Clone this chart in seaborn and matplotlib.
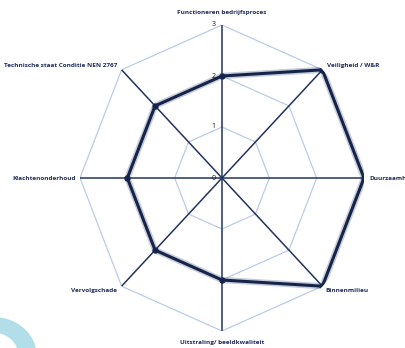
import numpy as np
import matplotlib
matplotlib.use("Agg")
import matplotlib.pyplot as plt
import matplotlib.patches as mpatches
import seaborn as sns

categories = ["Functioneren bedrijfsproces", "Veiligheid / W&R", "Duurzaamheid",
              "Binnenmilieu", "Uitstraling/ beeldkwaliteit", "Vervolgschade",
              "Klachtenonderhoud", "Technische staat Conditie NEN 2767"]
values = [2, 3, 3, 3, 2, 2, 2, 2]
ticks = [0, 1, 2, 3]

sns.set_theme(style="white")
plt.rcParams['font.family'] = ['Open Sans', 'DejaVu Sans']

W, H = 406, 348
fig = plt.figure(figsize=(W / 100, H / 100), dpi=100)
fig.patch.set_facecolor("white")

# decorative cyan shape bottom-left
ring = mpatches.Wedge((-0.02, -0.02), 0.11, 0, 90, width=0.045,
                      transform=fig.transFigure, facecolor="#a9dbe6",
                      edgecolor="none", alpha=0.9)
fig.patches.append(ring)

cx, cy, rx, ry = 222, 178, 142, 153
ax = fig.add_axes([(cx - rx) / W, (H - cy - ry) / H, 2 * rx / W, 2 * ry / H],
                  projection="polar")
ax.set_aspect("auto")
ax.set_theta_zero_location("N")
ax.set_theta_direction(-1)
ax.set_ylim(0, 3)
ax.grid(False)
ax.spines["polar"].set_visible(False)
ax.set_xticks([])
ax.set_yticks([])
ax.patch.set_alpha(0)

n = len(categories)
theta = np.arange(n) * 2 * np.pi / n
theta_c = np.append(theta, theta[0])

grid_col = "#bccbe8"
spoke_col = "#22335f"
line_col = "#17244a"

for t in ticks[1:]:
    ax.plot(theta_c, [t] * (n + 1), color=grid_col, lw=0.9, zorder=1)
for th in theta:
    ax.plot([th, th], [0, ticks[-1]], color=spoke_col, lw=1.1, zorder=2)

vals_c = np.append(values, values[0])
ax.plot(theta_c, vals_c, color="#5d6d96", lw=4.5, alpha=0.35, zorder=3,
        solid_joinstyle="miter")
sns.lineplot(x=theta_c, y=vals_c, sort=False, ax=ax, color=line_col, lw=2.2,
             zorder=4, estimator=None)
ax.plot(theta, values, "o", color=line_col, ms=3.5, zorder=5)

for t in ticks:
    ax.annotate(str(t), xy=(0, t), xytext=(-6, 0), textcoords="offset points",
                ha="center", va="center", fontsize=5, color="#1a1a1a",
                annotation_clip=False)

lab_kw = dict(fontsize=4.6, color="#1f2d5c", fontweight="bold",
              textcoords="offset points", annotation_clip=False)
offsets = [((0, 9), "center", "center"),
           ((3, 3), "left", "center"),
           ((4, 0), "left", "center"),
           ((2, -3), "left", "center"),
           ((0, -8), "center", "center"),
           ((-3, -3), "right", "center"),
           ((-3, 0), "right", "center"),
           ((-3, 3), "right", "center")]
for th, lab, (off, ha, va) in zip(theta, categories, offsets):
    ax.annotate(lab, xy=(th, ticks[-1]), xytext=off, ha=ha, va=va, **lab_kw)

fig.savefig("out.png", dpi=100)
